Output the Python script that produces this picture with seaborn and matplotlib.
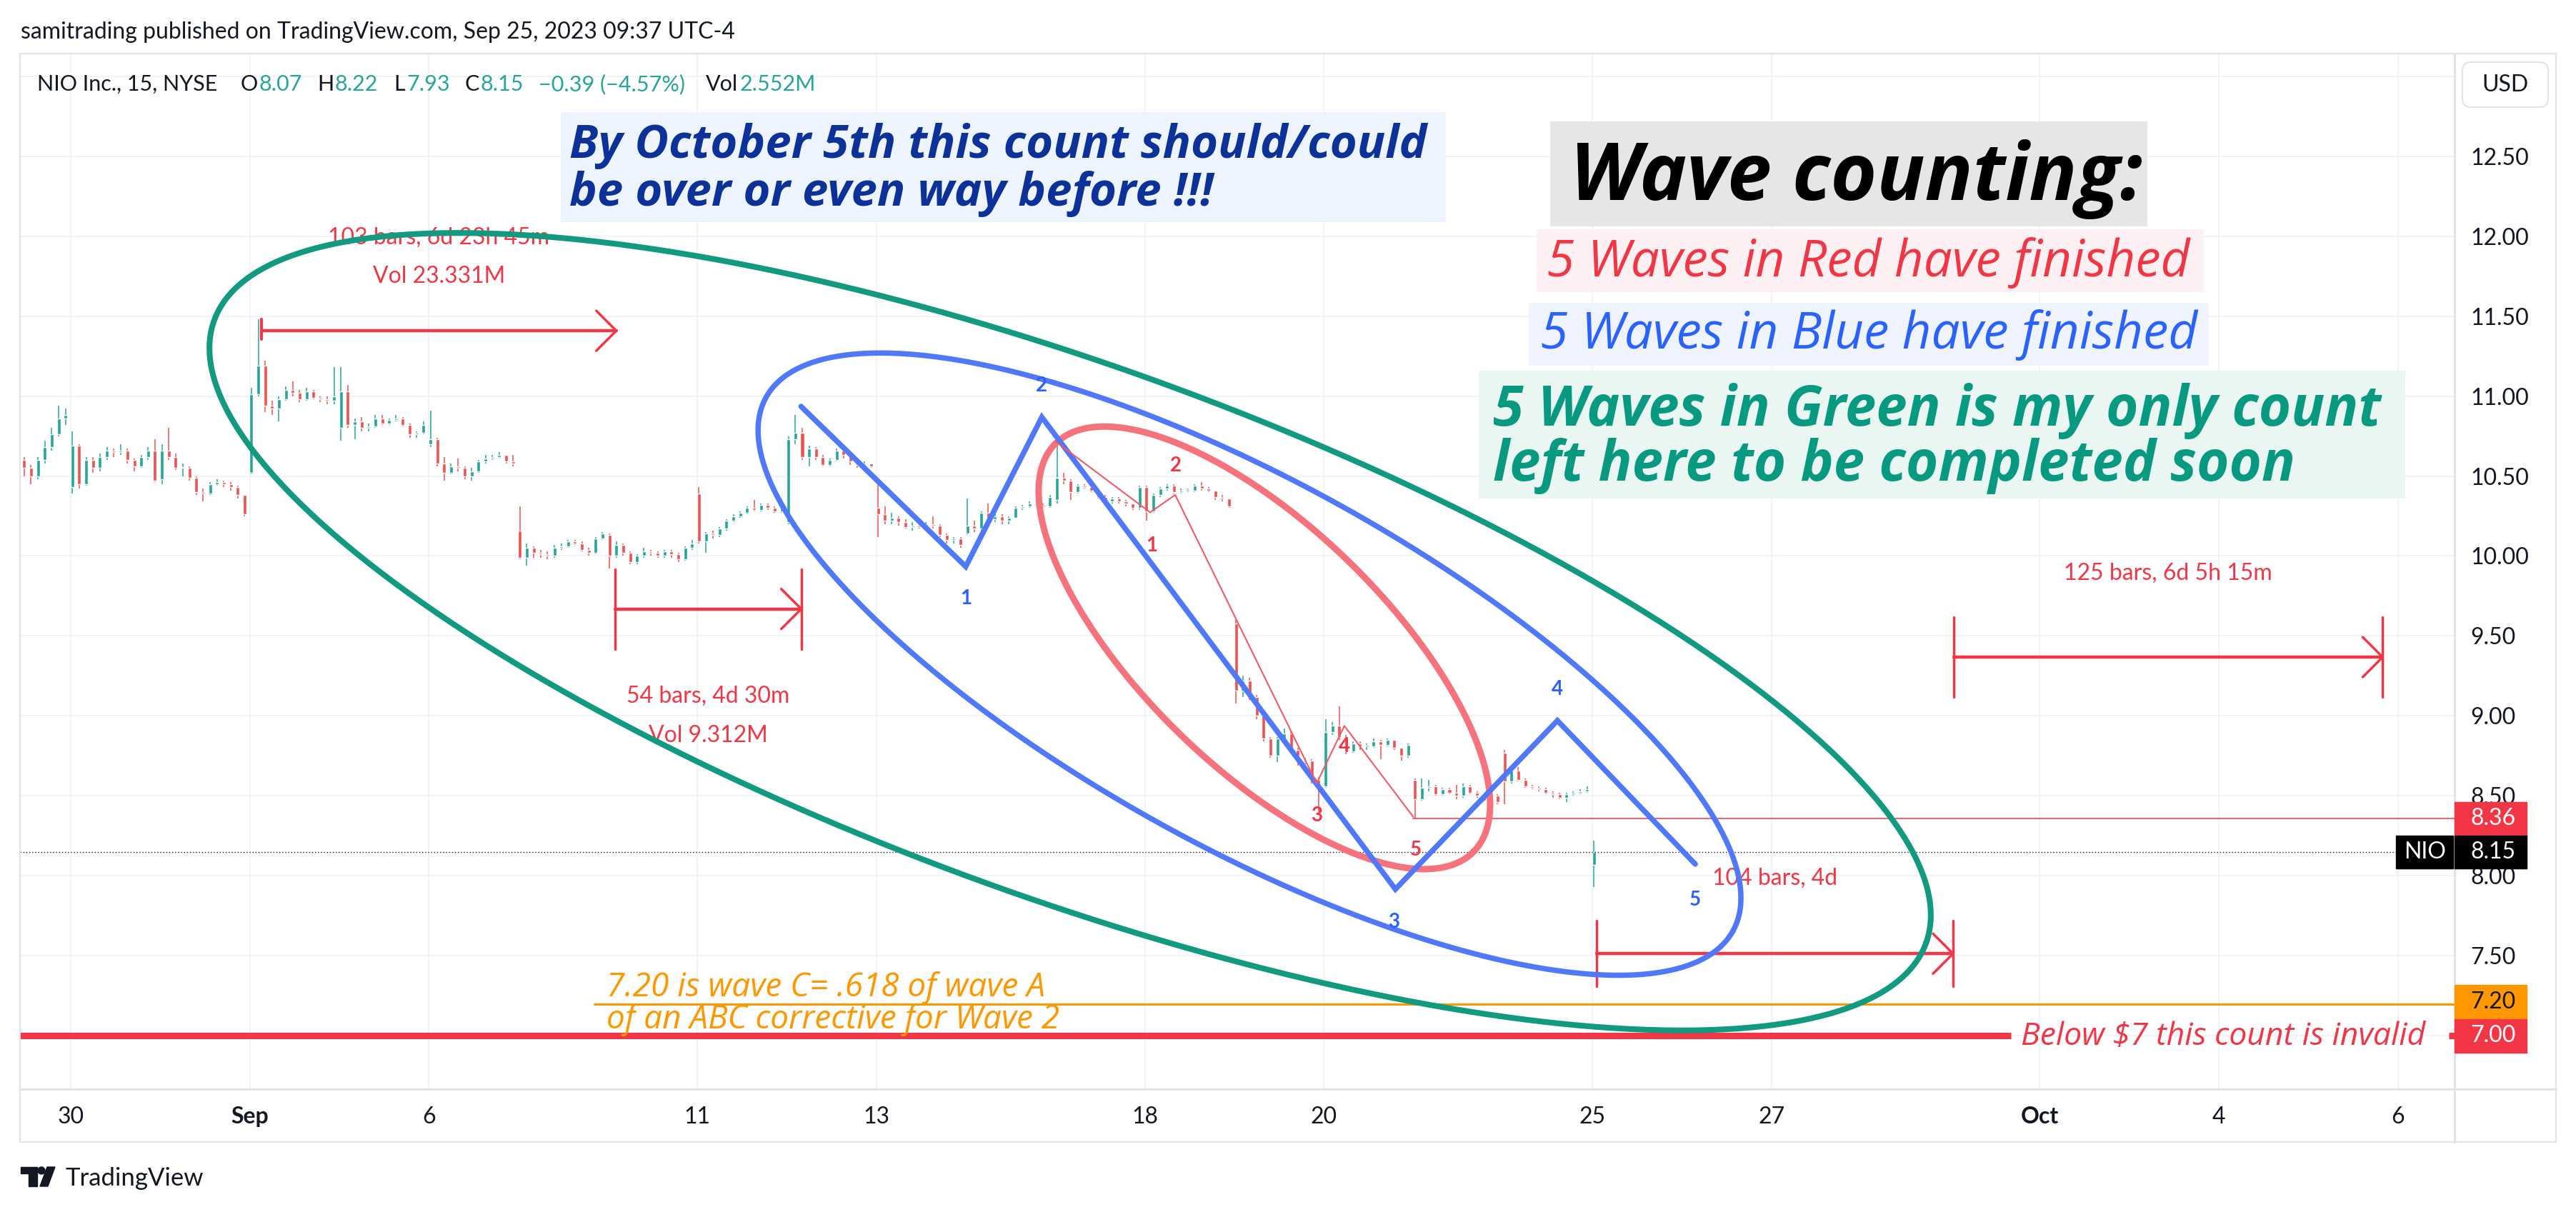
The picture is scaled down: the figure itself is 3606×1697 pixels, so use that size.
import numpy as np
import pandas as pd
import seaborn as sns
import matplotlib.pyplot as plt
import matplotlib.transforms as mtransforms
from matplotlib.patches import Rectangle, FancyBboxPatch, Polygon, Circle
from matplotlib.lines import Line2D

# NIO 15m chart, read off the picture and grouped into 30 min bars
# x of a session = trading-day index (Aug 30 = 0), 13 half-hour slots per day
day_index = [-1, 0, 1, 2, 3, 4, 5, 6, 7, 8, 9, 10, 11, 12, 13, 14, 15, 16, 17]
first_slot = [6, 0, 0, 0, 0, 0, 0, 0, 0, 0, 0, 0, 0, 0, 0, 0, 0, 0, 0]
day_open = [10.60, 10.43, 10.48, 10.52, 10.80, 10.70, 10.16, 10.13, 10.39, 10.21,
            10.30, 10.14, 10.35, 10.43, 9.58, 8.56, 8.60, 8.77, 8.07]

closes = [
    [10.55, 10.50, 10.60, 10.68, 10.76, 10.86, 10.88],                                   # Aug 29
    [10.69, 10.45, 10.60, 10.55, 10.62, 10.66, 10.65, 10.66, 10.60, 10.56, 10.62, 10.66, 10.47],  # Aug 30
    [10.66, 10.62, 10.55, 10.55, 10.49, 10.40, 10.39, 10.45, 10.46, 10.45, 10.43, 10.38, 10.26],  # Aug 31
    [11.01, 11.19, 10.94, 10.92, 10.98, 11.04, 11.02, 10.98, 11.03, 10.99, 10.98, 10.97, 11.00],  # Sep 1
    [11.03, 10.82, 10.84, 10.80, 10.81, 10.86, 10.83, 10.85, 10.86, 10.82, 10.76, 10.77, 10.82],  # Sep 5
    [10.73, 10.58, 10.52, 10.56, 10.55, 10.50, 10.53, 10.59, 10.61, 10.62, 10.63, 10.59, 10.58],  # Sep 6
    [9.99, 10.05, 10.02, 10.01, 10.00, 10.05, 10.06, 10.09, 10.08, 10.04, 10.02, 10.11, 10.14],   # Sep 7
    [10.00, 10.07, 10.02, 9.96, 10.00, 10.03, 10.02, 10.00, 10.03, 10.01, 9.98, 10.05, 10.08],    # Sep 8
    [10.09, 10.14, 10.13, 10.17, 10.22, 10.25, 10.27, 10.30, 10.29, 10.32, 10.30, 10.28, 10.33],  # Sep 11
    [10.73, 10.77, 10.62, 10.67, 10.62, 10.57, 10.60, 10.66, 10.63, 10.59, 10.57, 10.58, 10.56],  # Sep 12
    [10.26, 10.22, 10.24, 10.21, 10.18, 10.19, 10.18, 10.20, 10.19, 10.13, 10.10, 10.11, 10.07],  # Sep 13
    [10.19, 10.17, 10.27, 10.23, 10.25, 10.22, 10.24, 10.30, 10.31, 10.33, 10.32, 10.31, 10.37],  # Sep 14
    [10.49, 10.47, 10.40, 10.44, 10.43, 10.41, 10.37, 10.34, 10.36, 10.34, 10.33, 10.30, 10.43],  # Sep 15
    [10.28, 10.38, 10.42, 10.44, 10.40, 10.41, 10.41, 10.44, 10.42, 10.41, 10.37, 10.36, 10.31],  # Sep 18
    [9.16, 9.22, 9.12, 9.00, 8.86, 8.75, 8.86, 8.89, 8.79, 8.71, 8.72, 8.60, 8.57],               # Sep 19
    [8.90, 8.94, 8.87, 8.78, 8.83, 8.81, 8.81, 8.84, 8.82, 8.85, 8.80, 8.75, 8.82],               # Sep 20
    [8.48, 8.55, 8.56, 8.51, 8.54, 8.52, 8.50, 8.56, 8.52, 8.50, 8.47, 8.50, 8.46],               # Sep 21
    [8.59, 8.66, 8.60, 8.56, 8.55, 8.54, 8.52, 8.51, 8.49, 8.51, 8.52, 8.53, 8.54],               # Sep 22
    [8.15],                                                                                       # Sep 25
]
highs = [
    [10.62, 10.57, 10.62, 10.72, 10.80, 10.94, 10.92],
    [10.78, 10.70, 10.62, 10.62, 10.64, 10.68, 10.67, 10.70, 10.67, 10.61, 10.63, 10.68, 10.73],
    [10.70, 10.80, 10.64, 10.58, 10.56, 10.50, 10.42, 10.46, 10.48, 10.47, 10.46, 10.44, 10.38],
    [11.05, 11.48, 11.22, 10.97, 11.00, 11.06, 11.09, 11.04, 11.05, 11.04, 11.00, 11.00, 11.18],
    [11.18, 11.07, 10.86, 10.87, 10.83, 10.88, 10.88, 10.86, 10.88, 10.87, 10.83, 10.78, 10.84],
    [10.91, 10.74, 10.62, 10.58, 10.61, 10.56, 10.55, 10.60, 10.63, 10.63, 10.65, 10.63, 10.63],
    [10.31, 10.08, 10.06, 10.04, 10.03, 10.07, 10.08, 10.10, 10.10, 10.09, 10.05, 10.12, 10.15],
    [10.14, 10.09, 10.08, 10.03, 10.01, 10.05, 10.04, 10.03, 10.04, 10.04, 10.02, 10.06, 10.10],
    [10.43, 10.15, 10.16, 10.18, 10.23, 10.26, 10.28, 10.31, 10.35, 10.33, 10.33, 10.31, 10.34],
    [10.75, 10.88, 10.80, 10.69, 10.68, 10.63, 10.61, 10.67, 10.67, 10.64, 10.60, 10.59, 10.58],
    [10.46, 10.31, 10.27, 10.25, 10.23, 10.21, 10.20, 10.21, 10.25, 10.20, 10.14, 10.12, 10.12],
    [10.36, 10.22, 10.28, 10.33, 10.27, 10.26, 10.25, 10.31, 10.32, 10.34, 10.35, 10.33, 10.38],
    [10.74, 10.52, 10.48, 10.45, 10.45, 10.44, 10.42, 10.38, 10.37, 10.37, 10.35, 10.33, 10.44],
    [10.44, 10.39, 10.43, 10.45, 10.45, 10.42, 10.42, 10.45, 10.46, 10.43, 10.41, 10.38, 10.36],
    [9.60, 9.25, 9.24, 9.13, 9.01, 8.87, 8.87, 8.92, 8.91, 8.80, 8.74, 8.73, 8.62],
    [8.98, 8.96, 9.06, 8.88, 8.84, 8.84, 8.83, 8.86, 8.85, 8.86, 8.85, 8.80, 8.83],
    [8.61, 8.61, 8.60, 8.57, 8.55, 8.55, 8.57, 8.58, 8.57, 8.53, 8.51, 8.51, 8.51],
    [8.79, 8.68, 8.68, 8.61, 8.57, 8.56, 8.55, 8.53, 8.52, 8.52, 8.53, 8.54, 8.56],
    [8.22],
]
lows = [
    [10.50, 10.45, 10.48, 10.58, 10.66, 10.75, 10.82],
    [10.39, 10.42, 10.44, 10.52, 10.53, 10.60, 10.62, 10.63, 10.58, 10.53, 10.55, 10.60, 10.46],
    [10.45, 10.60, 10.54, 10.50, 10.47, 10.38, 10.34, 10.38, 10.44, 10.43, 10.41, 10.36, 10.25],
    [10.51, 11.00, 10.90, 10.88, 10.84, 10.97, 11.00, 10.96, 10.97, 10.98, 10.96, 10.95, 10.95],
    [10.72, 10.80, 10.73, 10.78, 10.78, 10.80, 10.82, 10.82, 10.84, 10.81, 10.74, 10.74, 10.76],
    [10.68, 10.56, 10.47, 10.51, 10.53, 10.48, 10.47, 10.52, 10.58, 10.60, 10.61, 10.58, 10.56],
    [9.98, 9.94, 9.99, 9.99, 9.98, 9.99, 10.04, 10.05, 10.07, 10.03, 10.00, 10.01, 10.10],
    [9.92, 9.99, 10.00, 9.95, 9.95, 9.99, 10.00, 9.99, 9.99, 9.99, 9.96, 9.97, 10.04],
    [10.08, 10.02, 10.11, 10.12, 10.16, 10.21, 10.24, 10.26, 10.28, 10.28, 10.29, 10.27, 10.27],
    [10.20, 10.70, 10.60, 10.56, 10.60, 10.56, 10.56, 10.59, 10.61, 10.57, 10.55, 10.56, 10.55],
    [10.12, 10.20, 10.20, 10.19, 10.17, 10.16, 10.17, 10.17, 10.17, 10.12, 10.08, 10.08, 10.05],
    [10.13, 10.15, 10.16, 10.22, 10.21, 10.20, 10.20, 10.24, 10.29, 10.30, 10.31, 10.30, 10.30],
    [10.33, 10.45, 10.35, 10.39, 10.42, 10.40, 10.36, 10.33, 10.33, 10.33, 10.31, 10.29, 10.29],
    [10.22, 10.27, 10.37, 10.41, 10.39, 10.39, 10.40, 10.40, 10.41, 10.40, 10.35, 10.34, 10.30],
    [9.08, 9.12, 9.10, 8.98, 8.84, 8.74, 8.71, 8.84, 8.77, 8.69, 8.70, 8.58, 8.40],
    [8.55, 8.88, 8.85, 8.76, 8.77, 8.79, 8.79, 8.80, 8.73, 8.81, 8.79, 8.72, 8.74],
    [8.36, 8.47, 8.53, 8.50, 8.50, 8.51, 8.48, 8.49, 8.51, 8.49, 8.46, 8.46, 8.45],
    [8.45, 8.58, 8.59, 8.55, 8.54, 8.53, 8.51, 8.49, 8.48, 8.46, 8.50, 8.51, 8.52],
    [7.93],
]

tick_pos = [0, 2, 4, 7, 9, 12, 14, 17, 19, 22, 24, 26]
tick_text = ['30', 'Sep', '6', '11', '13', '18', '20', '25', '27', 'Oct', '4', '6']
price_ticks = [7.0, 7.5, 8.0, 8.5, 9.0, 9.5, 10.0, 10.5, 11.0, 11.5, 12.0, 12.5, 13.0]

# drawings (day index, price)
blue_wave_x = [8.16, 10.00, 10.85, 14.80, 16.61, 18.15]
blue_wave_y = [10.935, 9.934, 10.868, 7.917, 8.971, 8.074]
blue_lbl_x = [10.00, 10.85, 14.78, 16.61, 18.15]
blue_lbl_y = [9.733, 11.065, 7.71, 9.167, 7.85]
red_wave_x = [11.00, 12.06, 12.34, 13.92, 14.23, 15.00]
red_wave_y = [10.717, 10.273, 10.382, 8.579, 8.938, 8.369]
red_lbl_x = [12.08, 12.35, 13.92, 14.23, 15.03]
red_lbl_y = [10.065, 10.564, 8.379, 8.81, 8.163]
wave_lbl = ['1', '2', '3', '4', '5']

last_close = 8.15
low_line = 8.36
target = 7.20
invalid = 7.00

# date range measures: start, end, price
measure_x0 = [2.13, 6.083, 17.05, 21.04]
measure_x1 = [6.096, 8.162, 21.03, 25.83]
measure_y = [11.408, 9.669, 7.514, 9.368]
measure_txt = [['103 bars, 6d 23h 45m', 'Vol 23.331M'], ['54 bars, 4d 30m', 'Vol 9.312M'],
               ['104 bars, 4d'], ['125 bars, 6d 5h 15m']]

sns.set_style("white")
plt.rcParams['font.family'] = ['Lato', 'DejaVu Sans']
plt.rcParams['axes.unicode_minus'] = False
NOTE_FONT = ['Open Sans', 'Lato', 'DejaVu Sans']

W, H = 3606, 1697
L, R, T, B = 28, 3436, 75, 1525
fig = plt.figure(figsize=(W / 100, H / 100), dpi=100)
fig.patch.set_facecolor('white')
ax = fig.add_axes([L / W, 1 - B / H, (R - L) / W, (B - T) / H])
ax.set_xlim(-0.566, 26.633)
ax.set_ylim(6.667, 13.141)
px_x = (R - L) / (26.633 + 0.566)
px_y = (B - T) / (13.141 - 6.667)
px = mtransforms.Affine2D().scale(1 / W, -1 / H).translate(0, 1) + fig.transFigure
blend = mtransforms.blended_transform_factory(ax.transAxes, ax.transData)

# candles
rows = []
for d, s0, o, cs, hs, ls in zip(day_index, first_slot, day_open, closes, highs, lows):
    for k in range(len(cs)):
        rows.append({'x': d + (s0 + k + 0.25) / 13, 'open': o, 'high': hs[k], 'low': ls[k], 'close': cs[k]})
        o = cs[k]
bars = pd.DataFrame(rows)
col = np.where(bars['close'] >= bars['open'], '#26a69a', '#ef5350')
ax.vlines(bars['x'], bars['low'], bars['high'], colors=col, lw=1.1, zorder=2)
body = (bars['close'] - bars['open']).abs().clip(lower=0.008)
ax.bar(bars['x'], body, bottom=bars[['open', 'close']].min(axis=1), width=0.04, color=col, zorder=2)

# grid and axes
ax.set_xticks(tick_pos)
ax.set_xticklabels(tick_text)
ax.set_yticks(price_ticks)
ax.set_yticklabels(['%.2f' % p if p < 13 else '' for p in price_ticks])
ax.yaxis.tick_right()
ax.grid(True, color='#f0f2f5', lw=1.3, zorder=0)
ax.tick_params(axis='x', length=0, pad=17, labelsize=23, labelcolor='#131722')
ax.tick_params(axis='y', length=0, pad=16, labelsize=23, labelcolor='#131722')
for lab in ax.get_xticklabels():
    if lab.get_text() in ('Sep', 'Oct'):
        lab.set_fontweight('bold')
for s in ax.spines.values():
    s.set_color('#e0e3eb')
    s.set_linewidth(1.2)
ax.spines['right'].set_linewidth(2.2)
ax.spines['bottom'].set_linewidth(2.2)


def ellipse(cx, cy, a, b, ang, n=500):
    t = np.linspace(0, 2 * np.pi, n)
    th = np.radians(ang)
    dx = a * np.cos(t) * np.cos(th) - b * np.sin(t) * np.sin(th)
    dy = a * np.cos(t) * np.sin(th) + b * np.sin(t) * np.cos(th)
    return cx + dx / px_x, cy - dy / px_y


for (cx, cy, a, b, ang), c, lw in [((11.166, 9.527, 1275, 371, 20.0), '#129a80', 5.8),
                                   ((13.17, 9.324, 773, 256, 28.9), '#4f78fb', 5.4),
                                   ((13.336, 9.426, 409, 169, 44.2), '#f6727d', 6.5)]:
    ex, ey = ellipse(cx, cy, a, b, ang)
    ax.plot(ex, ey, color=c, lw=lw, zorder=4)

sns.lineplot(x=blue_wave_x, y=blue_wave_y, sort=False, estimator=None, ax=ax, color='#4f78fb',
             lw=5.4, zorder=4, solid_joinstyle='miter', solid_capstyle='round')
sns.lineplot(x=red_wave_x, y=red_wave_y, sort=False, estimator=None, ax=ax, color='#f35a67',
             lw=1.5, zorder=4)
for x, y, s in zip(blue_lbl_x, blue_lbl_y, wave_lbl):
    ax.text(x, y, s, color='#2962ff', fontsize=20, fontweight='bold', ha='center', va='center', zorder=5)
for x, y, s in zip(red_lbl_x, red_lbl_y, wave_lbl):
    ax.text(x, y, s, color='#f23645', fontsize=20, fontweight='bold', ha='center', va='center', zorder=5)

# horizontal levels
ax.axhline(last_close, color='#131722', lw=1.0, ls=(0, (1, 2)), zorder=3)
ax.plot([15.0, 26.633], [low_line, low_line], color='#f23645', lw=1.1, zorder=3)
ax.plot([5.85, 26.633], [target, target], color='#ff9800', lw=2.2, zorder=3)
ax.plot([-0.566, 21.68], [invalid, invalid], color='#f23645', lw=6.5, zorder=3, solid_capstyle='butt')
ax.plot([26.57, 26.633], [invalid, invalid], color='#f23645', lw=6.5, zorder=3, solid_capstyle='butt')

# date range tools
hx, hy = 28 / px_x, 28 / px_y
for i, (x0, x1, y) in enumerate(zip(measure_x0, measure_x1, measure_y)):
    ax.plot([x0, x1], [y, y], color='#f23645', lw=3.2, zorder=3)
    ax.plot([x1 - hx, x1, x1 - hx], [y + hy, y, y - hy], color='#f23645', lw=2.5, zorder=3)
    if i == 0:
        ax.plot([x0, x0], [11.48, 11.355], color='#f23645', lw=3.0, zorder=3)
    else:
        half = 56 / px_y if i != 2 else 46 / px_y
        ax.plot([x0, x0], [y - half, y + half], color='#f23645', lw=2.5, zorder=3)
        ax.plot([x1, x1], [y - half, y + half], color='#f23645', lw=2.5, zorder=3)
lab_y = [[11.989, 11.75], [9.123, 8.877], [7.985], [9.891]]
for x0, x1, txts, ys in zip(measure_x0, measure_x1, measure_txt, lab_y):
    for s, y in zip(txts, ys):
        ax.text((x0 + x1) / 2, y, s, color='#f23645', fontsize=23, ha='center', va='center', zorder=3)

# text notes with boxes
for (x0, x1, y0, y1), c in [((5.476, 15.36, 12.088, 12.775), '#eef4fd'),
                            ((16.53, 23.20, 12.061, 12.717), '#e6e6e8'),
                            ((16.38, 23.83, 11.651, 12.041), '#fdf0f2'),
                            ((16.29, 23.89, 11.19, 11.583), '#eef3fe'),
                            ((15.73, 26.08, 10.359, 11.159), '#e9f6f2')]:
    ax.add_patch(Rectangle((x0, y0), x1 - x0, y1 - y0, color=c, lw=0, zorder=5))

note = dict(va='baseline', ha='left', fontstyle='italic', family=NOTE_FONT, zorder=6)
ax.text(5.57, 12.487, 'By October 5th this count should/could', color='#0c3299', fontsize=47, fontweight='bold', **note)
ax.text(5.57, 12.192, 'be over or even way before !!!', color='#0c3299', fontsize=47, fontweight='bold', **note)
ax.text(16.75, 12.224, 'Wave counting:', color='black', fontsize=80, fontweight='bold', **note)
ax.text(16.49, 11.746, '5 Waves in Red have finished', color='#f23645', fontsize=51, **note)
ax.text(16.42, 11.299, '5 Waves in Blue have finished', color='#2962ff', fontsize=51, **note)
ax.text(15.89, 10.813, '5 Waves in Green is my only count', color='#089981', fontsize=56, fontweight='bold', **note)
ax.text(15.89, 10.47, 'left here to be completed soon', color='#089981', fontsize=56, fontweight='bold', **note)
ax.text(5.987, 7.248, '7.20 is wave C= .618 of wave A', color='#ff9800', fontsize=33, **note)
ax.text(5.987, 7.047, 'of an ABC corrective for Wave 2', color='#ff9800', fontsize=33, **note)
ax.text(21.79, 6.944, 'Below $7 this count is invalid', color='#f23645', fontsize=32, **note)


# price scale tags
def price_tag(p, text, bg, fg):
    ax.add_patch(FancyBboxPatch((1.0, p - 0.104), 0.0296, 0.208, boxstyle='square,pad=0', transform=blend,
                                color=bg, clip_on=False, zorder=7))
    ax.text(1.0065, p, text, transform=blend, color=fg, fontsize=23, va='center', ha='left',
            clip_on=False, zorder=8)


price_tag(low_line, '8.36', '#f23645', 'white')
price_tag(last_close, '8.15', '#000000', 'white')
price_tag(7.213, '7.20', '#ff9800', '#131722')
price_tag(invalid, '7.00', '#f23645', 'white')
ax.add_patch(Rectangle((0.976, last_close - 0.104), 0.0233, 0.208, transform=blend, color='black', zorder=7))
ax.text(0.9877, last_close, 'NIO', transform=blend, color='white', fontsize=23, ha='center', va='center', zorder=8)

# outer frame, header and footer
fig.add_artist(Rectangle((L, T), 3578 - L, 1599 - T, transform=px, fill=False, ec='#e0e3eb', lw=1.5))
fig.add_artist(Line2D([R, 3578], [B, B], transform=px, color='#e0e3eb', lw=2.2))
fig.add_artist(Line2D([R, R], [B, 1599], transform=px, color='#e0e3eb', lw=2.2))
fig.add_artist(FancyBboxPatch((3447, 87), 120, 63, boxstyle='round,pad=0,rounding_size=12', transform=px,
                              fc='white', ec='#e0e3eb', lw=1.5))
fig.text(3507, 119, 'USD', transform=px, fontsize=23, ha='center', va='center', color='#131722')
fig.text(29, 45, 'samitrading published on TradingView.com, Sep 25, 2023 09:37 UTC-4', transform=px,
         fontsize=23, va='center', color='#131722')

head = [('NIO Inc., 15, NYSE', 52, '#131722'), ('O', 337, '#131722'), ('8.07', 362, '#26a69a'),
        ('H', 444, '#131722'), ('8.22', 468, '#26a69a'), ('L', 551, '#131722'), ('7.93', 569, '#26a69a'),
        ('C', 651, '#131722'), ('8.15', 673, '#26a69a'), ('\u22120.39 (\u22124.57%)', 754, '#26a69a'),
        ('Vol', 988, '#131722'), ('2.552M', 1036, '#26a69a')]
for s, x, c in head:
    fig.text(x, 118, s, transform=px, fontsize=22, va='center', color=c)

# TradingView logo
fig.add_artist(Polygon([[29, 1634], [52, 1634], [52, 1661], [40, 1661], [40, 1643], [29, 1643]],
                       closed=True, transform=px, color='#131722'))
fig.add_artist(Circle((58, 1639), 5, transform=px, color='#131722'))
fig.add_artist(Polygon([[66, 1634], [77, 1634], [67, 1661], [56, 1661]], closed=True, transform=px, color='#131722'))
fig.text(92, 1650, 'TradingView', transform=px, fontsize=25, va='center', color='#131722')

fig.savefig('out.png', dpi=100)
